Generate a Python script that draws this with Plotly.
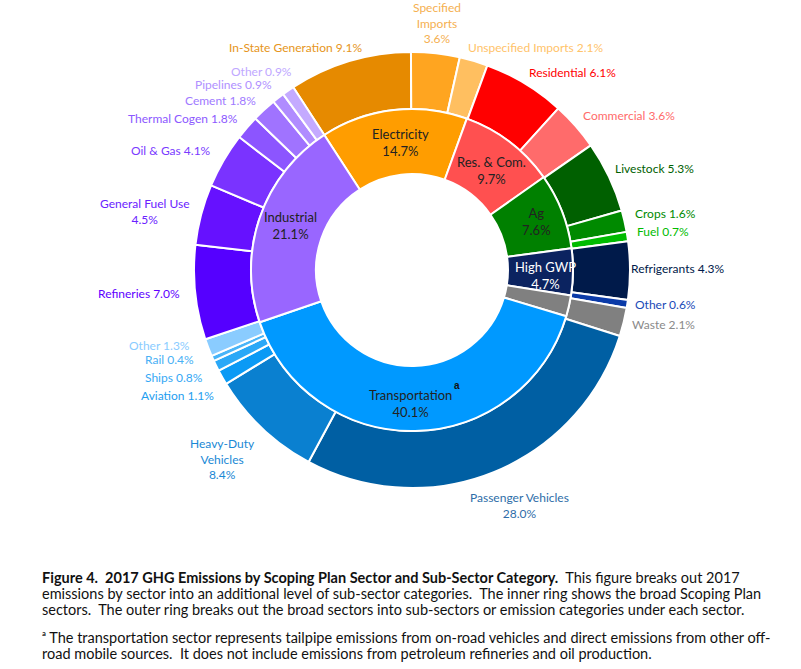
import plotly.graph_objects as go

# ---------------- data ----------------
inner_labels = ["Electricity", "Res. & Com.", "Ag", "High GWP", "Waste", "Transportation", "Industrial"]
inner_values = [14.7, 9.7, 7.6, 4.7, 2.1, 40.1, 21.1]

outer_labels = ["In-State Generation", "Specified Imports", "Unspecified Imports",
                "Residential", "Commercial",
                "Livestock", "Crops", "Fuel",
                "Refrigerants", "Other",
                "Waste",
                "Passenger Vehicles", "Heavy-Duty Vehicles", "Aviation", "Ships", "Rail", "Other",
                "Refineries", "General Fuel Use", "Oil & Gas", "Thermal Cogen", "Cement", "Pipelines", "Other"]
outer_values = [9.1, 3.6, 2.1,
                6.1, 3.6,
                5.3, 1.6, 0.7,
                4.3, 0.6,
                2.1,
                28.0, 8.4, 1.1, 0.8, 0.4, 1.3,
                7.0, 4.5, 4.1, 1.8, 1.8, 0.9, 0.9]

# ---------------- styles ----------------
inner_colors = ["#FF9D00", "#FF5050", "#008000", "#0B2360", "#808080", "#0099FF", "#9966FF"]
inner_text_colors = ["#222", "#222", "#222", "#FFFFFF", None, "#222", "#222"]

outer_colors = ["#E68A00", "#FFA520", "#FFBF60",
                "#FF0000", "#FF6B6B",
                "#006000", "#008A00", "#00BB00",
                "#001A4A", "#0A3AA8",
                "#808080",
                "#005FA3", "#0A80D0", "#0A9AF5", "#2AA8F7", "#48B4F8", "#8ACCFF",
                "#5500FF", "#6611FF", "#7A33FF", "#8C55FF", "#A073FF", "#B08CFF", "#C4AAFF"]
outer_text_colors = ["#E69520", "#F5B050", "#FFC36A",
                     "#FF0000", "#FF6B6B",
                     "#006000", "#008A00", "#00BB00",
                     "#001A4A", "#1A4AB8",
                     "#8A8A8A",
                     "#2E6DA8", "#1A88D5", "#1E9EF0", "#35A8F5", "#48B0F5", "#8ACCFF",
                     "#6000FF", "#6A22FF", "#7A3AFF", "#8C58FF", "#A07AFF", "#B090FF", "#C0A8FF"]

W, H = 801, 669
CX, CY = 412, 270
R_OUT, R_MID, R_IN = 218, 161, 96

# outer label placement (window pixels): (x, y, xanchor, mode)
outer_label_place = [
    (362, 47, "right", "inline"), (437, 23, "center", "split"), (468, 48, "left", "inline"),
    (529, 73, "left", "inline"), (583, 116, "left", "inline"),
    (615, 168, "left", "inline"), (635, 213, "left", "inline"), (637, 232, "left", "inline"),
    (631, 268, "left", "inline"), (635, 304, "left", "inline"),
    (632, 324, "left", "inline"),
    (519, 505, "center", "two"), (222, 459, "center", "split"), (214, 395, "right", "inline"),
    (203, 377, "right", "inline"), (194, 359, "right", "inline"), (190, 345, "right", "inline"),
    (180, 294, "right", "inline"), (145, 211, "center", "two"), (211, 150, "right", "inline"),
    (238, 118, "right", "inline"), (256, 100, "right", "inline"), (272, 84, "right", "inline"),
    (292, 71, "right", "inline"),
]
inner_label_place = [(400, 142), (492, 170), (536, 221), (545, 275), None, (410, 403), (290, 225)]

LABEL_FONT = "Lato"


def px(x):
    return x / W


def py(y):
    return 1 - y / H


def fmt(name, v, mode):
    if mode == "inline":
        return f"{name} {v:.1f}%"
    if mode == "two":
        return f"{name}<br>{v:.1f}%"
    return "<br>".join(name.split(" ")) + f"<br>{v:.1f}%"


fig = go.Figure()
fig.add_trace(go.Pie(
    labels=[f"o{i}" for i in range(len(outer_labels))], values=outer_values,
    sort=False, direction="clockwise", rotation=-33, hole=R_MID / R_OUT,
    marker=dict(colors=outer_colors, line=dict(color="white", width=2)),
    textinfo="none", hoverinfo="skip", showlegend=False,
    domain=dict(x=[px(CX - R_OUT), px(CX + R_OUT)], y=[py(CY + R_OUT), py(CY - R_OUT)]),
))
fig.add_trace(go.Pie(
    labels=inner_labels, values=inner_values,
    sort=False, direction="clockwise", rotation=-33, hole=R_IN / R_MID,
    marker=dict(colors=inner_colors, line=dict(color="white", width=2)),
    textinfo="none", hoverinfo="skip", showlegend=False,
    domain=dict(x=[px(CX - R_MID), px(CX + R_MID)], y=[py(CY + R_MID), py(CY - R_MID)]),
))

ann = []
for name, v, col, (x, y, xa, mode) in zip(outer_labels, outer_values, outer_text_colors, outer_label_place):
    ann.append(dict(x=px(x), y=py(y), xref="paper", yref="paper", xanchor=xa, yanchor="middle",
                    text=fmt(name, v, mode), showarrow=False, borderpad=0, borderwidth=0,
                    font=dict(family=LABEL_FONT, size=12, color=col), align="center"))

for name, v, col, place in zip(inner_labels, inner_values, inner_text_colors, inner_label_place):
    if place is None:
        continue
    x, y = place
    ann.append(dict(x=px(x), y=py(y), xref="paper", yref="paper", xanchor="center", yanchor="middle",
                    text=f"{name}<br>{v:.1f}%", showarrow=False, borderpad=0, borderwidth=0,
                    font=dict(family=LABEL_FONT, size=13, color=col), align="center"))
ann.append(dict(x=px(457), y=py(385), xref="paper", yref="paper", xanchor="center", yanchor="middle",
                text="<b>a</b>", showarrow=False, font=dict(family="Liberation Sans", size=10, color="#111")))

NB = "\u00a0"
caption_lines = [
    (577, f"<b>Figure 4.{NB} 2017 GHG Emissions by Scoping Plan Sector and Sub-Sector Category.</b>{NB} This figure breaks out 2017"),
    (593, f"emissions by sector into an additional level of sub-sector categories.{NB} The inner ring shows the broad Scoping Plan"),
    (609, f"sectors.{NB} The outer ring breaks out the broad sectors into sub-sectors or emission categories under each sector."),
    (637, f"\u1d43 The transportation sector represents tailpipe emissions from on-road vehicles and direct emissions from other off-"),
    (653, f"road mobile sources.{NB} It does not include emissions from petroleum refineries and oil production."),
]
for y, t in caption_lines:
    ann.append(dict(x=px(42), y=py(y), xref="paper", yref="paper", xanchor="left", yanchor="middle",
                    text=t, showarrow=False, borderpad=0, borderwidth=0,
                    font=dict(family="Lato", size=14.5, color="#111")))

fig.update_layout(width=W, height=H, margin=dict(l=0, r=0, t=0, b=0),
                  paper_bgcolor="white", plot_bgcolor="white", annotations=ann)
fig.write_html("out.html", config={"displayModeBar": False},
               post_script="document.body.style.margin='0';document.body.style.overflow='hidden';")
